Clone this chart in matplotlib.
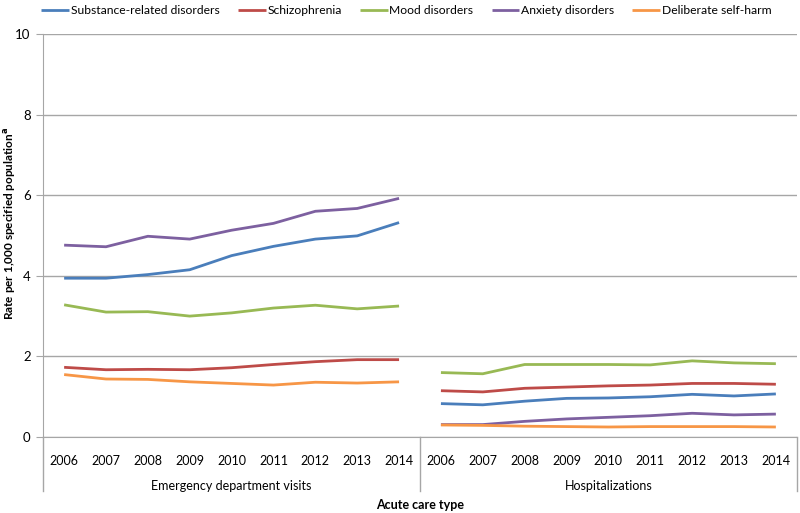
import matplotlib
matplotlib.use("Agg")
import matplotlib.pyplot as plt
import numpy as np

plt.rcParams['font.family'] = ['Lato', 'DejaVu Sans']

years = ["2006", "2007", "2008", "2009", "2010", "2011", "2012", "2013", "2014"]
groups = ["Emergency department visits", "Hospitalizations"]
series_names = ["Substance-related disorders", "Schizophrenia", "Mood disorders",
                "Anxiety disorders", "Deliberate self-harm"]
colors = ["#4A7EBB", "#BE4B48", "#98B954", "#7D60A0", "#F79646"]

ed_substance = [3.94, 3.94, 4.03, 4.15, 4.50, 4.73, 4.91, 4.99, 5.32]
ed_schizo = [1.73, 1.67, 1.68, 1.67, 1.72, 1.80, 1.87, 1.92, 1.92]
ed_mood = [3.28, 3.10, 3.11, 3.00, 3.08, 3.20, 3.27, 3.18, 3.25]
ed_anxiety = [4.76, 4.72, 4.98, 4.91, 5.13, 5.30, 5.60, 5.67, 5.92]
ed_selfharm = [1.55, 1.44, 1.43, 1.37, 1.33, 1.29, 1.36, 1.34, 1.37]

hosp_substance = [0.83, 0.80, 0.89, 0.96, 0.97, 1.00, 1.06, 1.02, 1.07]
hosp_schizo = [1.15, 1.12, 1.21, 1.24, 1.27, 1.29, 1.33, 1.33, 1.31]
hosp_mood = [1.60, 1.57, 1.80, 1.80, 1.80, 1.79, 1.89, 1.84, 1.82]
hosp_anxiety = [0.31, 0.31, 0.39, 0.45, 0.49, 0.53, 0.59, 0.55, 0.57]
hosp_selfharm = [0.30, 0.29, 0.27, 0.26, 0.25, 0.26, 0.26, 0.26, 0.25]

ed = [ed_substance, ed_schizo, ed_mood, ed_anxiety, ed_selfharm]
hosp = [hosp_substance, hosp_schizo, hosp_mood, hosp_anxiety, hosp_selfharm]

fig = plt.figure(figsize=(8, 5.13), dpi=100)
ax = fig.add_axes([0.054, 0.148, 0.942, 0.786])

n = len(years)
x_ed = np.arange(n)
x_h = np.arange(n) + n
for name, c, e, h in zip(series_names, colors, ed, hosp):
    ax.plot(x_ed, e, color=c, lw=2, label=name, solid_capstyle='butt')
    ax.plot(x_h, h, color=c, lw=2, solid_capstyle='butt')

ax.set_xlim(-0.5, 2 * n - 0.5)
ax.set_ylim(0, 10)
ax.set_yticks([0, 2, 4, 6, 8, 10])
ax.yaxis.grid(True, color='#A6A6A6', lw=1)
ax.set_axisbelow(True)
ax.tick_params(axis='y', length=5, color='#A6A6A6', labelsize=9.5, pad=4)
ax.set_xticks(np.arange(2 * n))
ax.set_xticklabels(years + years, fontsize=9)
ax.tick_params(axis='x', length=0, pad=13)

for s in ['top', 'right']:
    ax.spines[s].set_visible(False)
ax.spines['left'].set_color('#A6A6A6')
ax.spines['bottom'].set_color('#A6A6A6')
ax.spines['left'].set_bounds(0, 10)

trans = ax.get_xaxis_transform()
for xv in [-0.5, n - 0.5, 2 * n - 0.5]:
    ax.plot([xv, xv], [0, -0.133], transform=trans, color='#A6A6A6', lw=1, clip_on=False)
for i, g in enumerate(groups):
    ax.text(i * n + (n - 1) / 2, -0.122, g, transform=trans, ha='center', va='center', fontsize=9)

ax.set_xlabel("Acute care type", fontweight='bold', fontsize=9, va='center')
ax.xaxis.set_label_coords(0.5, -0.169)
ax.set_ylabel("Rate per 1,000 specified population$^{\\mathbf{a}}$", fontweight='bold', fontsize=8.5, va='center')
ax.yaxis.set_label_coords(-0.044, 0.53)

ax.legend(loc='center left', bbox_to_anchor=(-0.009, 1.058), ncol=5, frameon=False,
          fontsize=8.7, handlelength=2.3, handletextpad=0.15, columnspacing=1.5, borderaxespad=0)

fig.savefig("out.png", dpi=100)
